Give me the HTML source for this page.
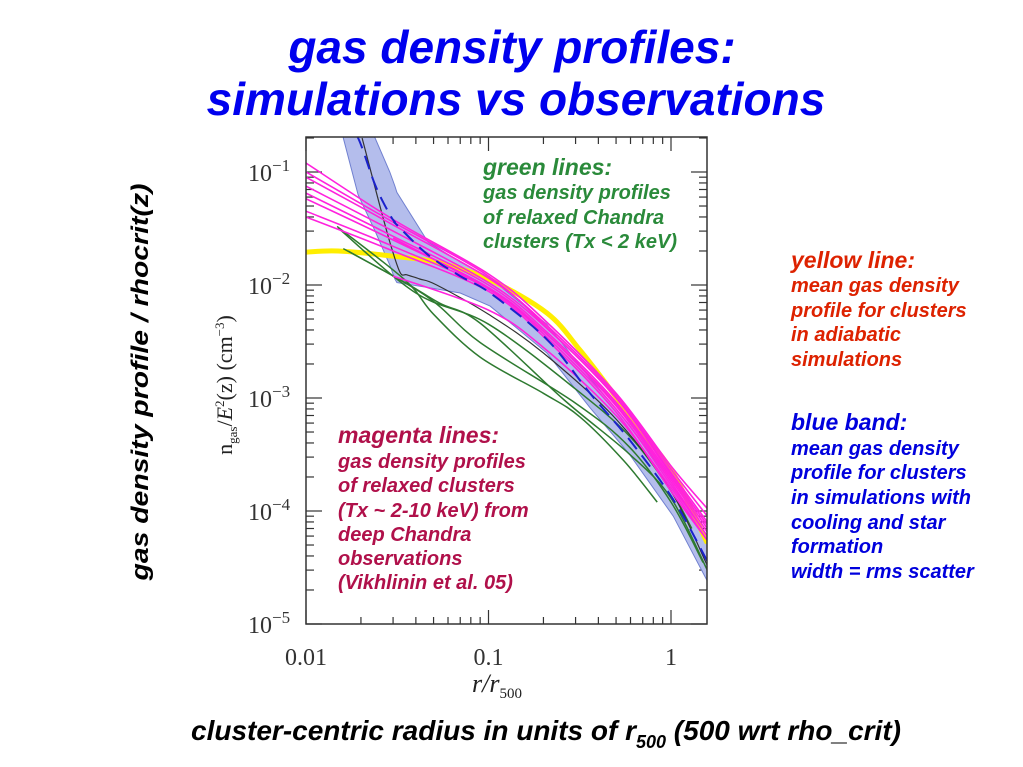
<!DOCTYPE html>
<html><head><meta charset="utf-8"><style>
html,body{margin:0;padding:0;background:#fff;}
svg{display:block;}
.t{font-family:"Liberation Sans",sans-serif;font-weight:bold;font-style:italic;}
.s{font-family:"Liberation Serif",serif;}
</style></head><body>
<svg id="chart" width="1023" height="767" viewBox="0 0 1023 767" xmlns="http://www.w3.org/2000/svg">
<text class="t" x="512" y="63" font-size="46" fill="#0000ee" text-anchor="middle">gas density profiles:</text>
<text class="t" x="516" y="115" font-size="46" fill="#0000ee" text-anchor="middle">simulations vs observations</text>
<text class="t" transform="translate(148,382) rotate(-90)" font-size="24" fill="#000" text-anchor="middle" textLength="397" lengthAdjust="spacingAndGlyphs">gas density profile / rhocrit(z)</text>
<text class="t" x="546" y="740" font-size="28" fill="#000" text-anchor="middle">cluster-centric radius in units of r<tspan font-size="18" dy="8">500</tspan><tspan dy="-8"> (500 wrt rho_crit)</tspan></text>
<text class="s" transform="translate(232,385) rotate(-90)" font-size="22" fill="#222" text-anchor="middle">n<tspan font-size="13" dy="5">gas</tspan><tspan dy="-5">/</tspan><tspan font-style="italic">E</tspan><tspan font-size="13" dy="-8">2</tspan><tspan dy="8">(z)  (cm</tspan><tspan font-size="13" dy="-8">−3</tspan><tspan dy="8">)</tspan></text>
<text class="s" x="472" y="692" font-size="26" font-style="italic" fill="#222">r/r<tspan font-size="15" dy="6" font-style="normal">500</tspan></text>
<g id="ticks"></g>
<g id="marks" clip-path="url(#clip)"></g>
<defs><clipPath id="clip"><rect x="306" y="137" width="401" height="487"/></clipPath></defs>
<rect x="306" y="137" width="401" height="487" fill="none" stroke="#333" stroke-width="1.5"/>
<g class="t" fill="#2a8a3a">
<text x="483" y="175" font-size="23">green lines:</text>
<text x="483" y="199" font-size="20">gas density profiles</text>
<text x="483" y="224" font-size="20">of relaxed Chandra</text>
<text x="483" y="248" font-size="20">clusters (Tx &lt; 2 keV)</text>
</g>
<g class="t" fill="#b0104a">
<text x="338" y="443" font-size="23">magenta lines:</text>
<text x="338" y="468" font-size="20">gas density profiles</text>
<text x="338" y="492" font-size="20">of relaxed clusters</text>
<text x="338" y="517" font-size="20">(Tx ~ 2-10 keV) from</text>
<text x="338" y="541" font-size="20">deep Chandra</text>
<text x="338" y="565" font-size="20">observations</text>
<text x="338" y="589" font-size="20">(Vikhlinin et al. 05)</text>
</g>
<g class="t" fill="#dd2200">
<text x="791" y="268" font-size="23">yellow line:</text>
<text x="791" y="292" font-size="20">mean gas density</text>
<text x="791" y="317" font-size="20">profile for clusters</text>
<text x="791" y="341" font-size="20">in adiabatic</text>
<text x="791" y="366" font-size="20">simulations</text>
</g>
<g class="t" fill="#0000dd">
<text x="791" y="430" font-size="23">blue band:</text>
<text x="791" y="455" font-size="20">mean gas density</text>
<text x="791" y="479" font-size="20">profile for clusters</text>
<text x="791" y="504" font-size="20">in simulations with</text>
<text x="791" y="529" font-size="20">cooling and star</text>
<text x="791" y="553" font-size="20">formation</text>
<text x="791" y="578" font-size="20">width = rms scatter</text>
</g>
</svg>
<script>
const xTickLabels = ["0.01","0.1","1"];
const xTickValues = [0.01,0.1,1];
const yTickExps = [-1,-2,-3,-4,-5];
const gridX = [0.01,0.03,0.1,0.2,0.5,1,1.58];
const magenta1 = [0.12,0.038,0.0125,0.005,0.0011,2.5e-4,1.05e-4];
const magenta2 = [0.09,0.034,0.0115,0.0047,0.00105,2.35e-4,9e-5];
const magenta3 = [0.075,0.03,0.0105,0.0044,0.001,2.2e-4,8e-5];
const magenta4 = [0.065,0.027,0.01,0.0041,9.2e-4,2e-4,7e-5];
const magenta5 = [0.058,0.025,0.0095,0.0039,8.8e-4,1.9e-4,6.5e-5];
const magenta6 = [0.045,0.022,0.0092,0.0037,8e-4,1.7e-4,6e-5];
const magenta7 = [0.04,0.02,0.0088,0.0035,7.5e-4,1.5e-4,5.5e-5];
const magenta8 = [0.1,0.036,0.012,0.0045,0.001,2.1e-4,7.5e-5];
const magenta9 = [null,0.026,0.0092,0.0039,8.5e-4,1.8e-4,6e-5];
const magenta10 = [null,0.012,0.006,0.0028,7e-4,1.6e-4,5.5e-5];
const yellowX = [0.01,0.015,0.03,0.054,0.102,0.209,0.317,0.481,0.676,1.026,1.58];
const yellowY = [0.0195,0.02,0.018,0.0157,0.0111,0.00565,0.00266,0.00111,5.2e-4,2.17e-4,5.2e-5];
const bandX = [0.016,0.0193,0.0239,0.0288,0.0307,0.0315,0.0466,0.07,0.102,0.209,0.36,0.59,1.03,1.58];
const bandMid = [0.3,0.2,0.077,0.042,0.036,0.034,0.0185,0.012,0.0085,0.0033,0.0011,4.3e-4,1.26e-4,3.6e-5];
const bandUpper = [0.4,0.3,0.2,0.1,0.075,0.066,0.024,0.016,0.0115,0.0045,0.0015,5.8e-4,1.7e-4,5.5e-5];
const bandLower = [0.2,0.063,0.03,0.015,0.0113,0.0105,0.0095,0.0085,0.0065,0.0025,8.2e-4,3.2e-4,9e-5,2.4e-5];
const blackX = [0.0203,0.0248,0.0288,0.0327,0.0357,0.042,0.052,0.1,0.2,0.5,1,1.58];
const blackY = [0.2,0.058,0.024,0.013,0.0123,0.0113,0.01,0.0055,0.0025,6.5e-4,1.5e-4,3.3e-5];
const green1X = [0.0148,0.035,0.05,0.09,0.2,0.317,0.55,0.84];
const green1Y = [0.033,0.011,0.0055,0.0023,0.0011,6.8e-4,2.8e-4,1.2e-4];
const green2X = [0.016,0.035,0.054,0.09,0.26,0.59,1,1.58];
const green2Y = [0.021,0.0105,0.0069,0.0046,9.6e-4,3.2e-4,1.3e-4,3e-5];
const green3X = [0.017,0.046,0.09,0.3,0.59,1,1.5];
const green3Y = [0.02,0.0079,0.0031,9e-4,3.7e-4,1.2e-4,3.5e-5];
const green4X = [0.015,0.04,0.1,0.3,0.6,1,1.3];
const green4Y = [0.032,0.0085,0.0045,0.0012,4.5e-4,1.5e-4,7e-5];

const X0=306, XD=182.5, Y1=172, YD=113;
function sx(v){return X0+(Math.log10(v)+2)*XD;}
function sy(v){return Y1+(-1-Math.log10(v))*YD;}
const NS="http://www.w3.org/2000/svg";
function pathFrom(xs,ys){
  const p=[];for(let i=0;i<xs.length;i++){if(ys[i]!=null)p.push([sx(xs[i]),sy(ys[i])]);}
  let d="M"+p[0][0].toFixed(1)+","+p[0][1].toFixed(1);
  for(let i=0;i<p.length-1;i++){
    const a=p[Math.max(0,i-1)],b=p[i],c=p[i+1],e=p[Math.min(p.length-1,i+2)];
    const c1=[b[0]+(c[0]-a[0])/6,b[1]+(c[1]-a[1])/6],c2=[c[0]-(e[0]-b[0])/6,c[1]-(e[1]-b[1])/6];
    d+=" C"+c1[0].toFixed(1)+","+c1[1].toFixed(1)+" "+c2[0].toFixed(1)+","+c2[1].toFixed(1)+" "+c[0].toFixed(1)+","+c[1].toFixed(1);
  }
  return d;
}
const marks=document.getElementById("marks");
function addPath(d,stroke,w,name,extra){
  const el=document.createElementNS(NS,"path");
  el.setAttribute("d",d);el.setAttribute("fill","none");el.setAttribute("stroke",stroke);el.setAttribute("stroke-width",w);
  if(extra)for(const k in extra)el.setAttribute(k,extra[k]);
  
  
  marks.appendChild(el);return el;
}
{
  let d="";
  bandX.forEach((x,i)=>{d+=(i?"L":"M")+sx(x).toFixed(1)+","+sy(bandUpper[i]).toFixed(1);});
  for(let i=bandX.length-1;i>=0;i--)d+="L"+sx(bandX[i]).toFixed(1)+","+sy(bandLower[i]).toFixed(1);
  d+="Z";
  const el=document.createElementNS(NS,"path");
  el.setAttribute("d",d);el.setAttribute("fill","#b4bdec");el.setAttribute("stroke","#7080d0");el.setAttribute("stroke-width","1");
  
  
  marks.appendChild(el);
}
addPath(pathFrom(yellowX,yellowY),"#ffee00",5,"yellow-line");
const greens=[[green1X,green1Y],[green2X,green2Y],[green3X,green3Y],[green4X,green4Y]];
greens.forEach((g,i)=>addPath(pathFrom(g[0],g[1]),"#2e7a30",1.5,"green-line-"+(i+1)));
addPath(pathFrom(blackX,blackY),"#333",1.2,"black-line");
const mags=[magenta1,magenta2,magenta3,magenta4,magenta5,magenta6,magenta7,magenta8,magenta9,magenta10];
mags.forEach((m,i)=>{
  const xs=[],ys=[];m.forEach((v,j)=>{if(v!=null){xs.push(gridX[j]);ys.push(v);}});
  addPath(pathFrom(xs,ys),"#ff22dd",1.6,"magenta-line-"+(i+1));
});
addPath(pathFrom(bandX,bandMid),"#1a22cc",2,"blue-dashed-mean",{"stroke-dasharray":"14,8"});

const tg=document.getElementById("ticks");
function line(x1,y1,x2,y2,name){
  const el=document.createElementNS(NS,"line");
  el.setAttribute("x1",x1);el.setAttribute("y1",y1);el.setAttribute("x2",x2);el.setAttribute("y2",y2);
  el.setAttribute("stroke","#333");el.setAttribute("stroke-width","1.2");
  
  
  tg.appendChild(el);
}
function label(x,y,txt,anchor,name,sup){
  const el=document.createElementNS(NS,"text");
  el.setAttribute("x",x);el.setAttribute("y",y);el.setAttribute("font-size","24");el.setAttribute("text-anchor",anchor);
  el.setAttribute("font-family","Liberation Serif, serif");el.setAttribute("fill","#333");
  el.textContent=txt;
  if(sup){const ts=document.createElementNS(NS,"tspan");ts.setAttribute("font-size","17");ts.setAttribute("dy","-10");ts.textContent=sup;el.appendChild(ts);}
  
  
  tg.appendChild(el);
}
for(let dec=-2;dec<=0;dec++){for(let k=1;k<=9;k++){
  const v=k*Math.pow(10,dec);const x=sx(v);if(x>707)continue;
  const L=k===1?14:7;
  line(x,624,x,624-L,"x-tick");line(x,137,x,137+L,"x-tick");
}}
xTickValues.forEach((v,i)=>label(sx(v),665,xTickLabels[i],"middle","x-tick-label"));
for(let e=-5;e<=-1;e++){for(let k=1;k<=9;k++){
  const y=sy(k*Math.pow(10,e));if(y<137)continue;
  const L=k===1?16:8;
  line(306,y,306+L,y,"y-tick");line(707,y,707-L,y,"y-tick");
}}
yTickExps.forEach(e=>label(248,sy(Math.pow(10,e))+9,"10","start","y-tick-label","−"+(-e)));
</script>
</body></html>
